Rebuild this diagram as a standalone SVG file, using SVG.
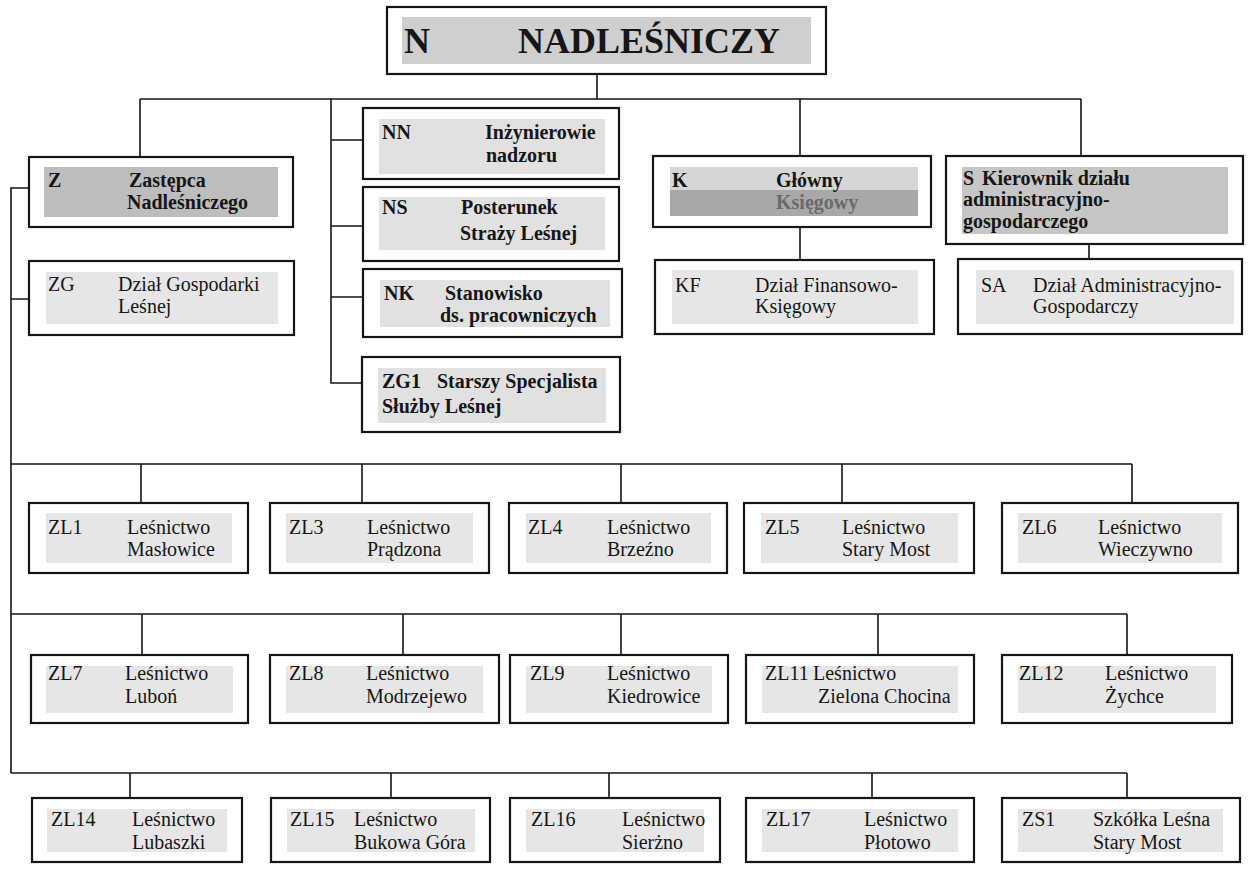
<svg xmlns="http://www.w3.org/2000/svg" width="1252" height="869" viewBox="0 0 1252 869">
<style>
.bg{fill:#ffffff}
.box{fill:#ffffff;stroke:#151515;stroke-width:2.2}
.in{fill:#e6e6e6}
.inS{fill:#e1e1e1}
.t{font-family:"Liberation Serif","Times New Roman",serif;font-size:20px;fill:#161616}
.b{font-weight:bold}
.big{font-size:36px}
.conn{stroke:#151515;stroke-width:1.6;fill:none}
</style>
<rect class="bg" x="0" y="0" width="1252" height="869"/>

<g id="connectors">
<path class="conn" d="M597,74 V99 M140,99 H1081 M140,99 V157 M331,99 V383 H362 M331,140 H363 M331,226 H363 M331,297 H363 M800,99 V156 M1081,99 V156 M800,227 V260 M1089,244 V259"/>
<path class="conn" d="M29,188 H11 V773 M11,299 H29"/>
<path class="conn" d="M11,464 H1132 M141,464 V503 M362,464 V503 M621,464 V503 M842,464 V503 M1132,464 V503"/>
<path class="conn" d="M11,614 H1127 M142,614 V655 M403,614 V655 M621,614 V655 M878,614 V655 M1127,614 V655"/>
<path class="conn" d="M11,773 H1127 M130,773 V798 M391,773 V798 M609,773 V798 M872,773 V798 M1127,773 V798"/>
</g>

<g id="N">
<rect class="box" x="387" y="7" width="439" height="67"/>
<rect x="402" y="17" width="409" height="47" fill="#cfcfcf"/>
<text class="t b big" x="404" y="53">N</text>
<text class="t b big" x="518" y="53">NADLEŚNICZY</text>
</g>

<g id="Z">
<rect class="box" x="29" y="157" width="264" height="70"/>
<rect x="44" y="167" width="234" height="50" fill="#bdbdbd"/>
<text class="t b" x="48" y="187">Z</text>
<text class="t b" x="129" y="187">Zastępca</text>
<text class="t b" x="127" y="209">Nadleśniczego</text>
</g>

<g id="NN">
<rect class="box" x="363" y="108" width="256" height="71"/>
<rect class="inS" x="379" y="119" width="226" height="55"/>
<text class="t b" x="382" y="139">NN</text>
<text class="t b" x="485" y="139">Inżynierowie</text>
<text class="t b" x="486" y="162">nadzoru</text>
</g>

<g id="NS">
<rect class="box" x="363" y="187" width="256" height="74"/>
<rect class="inS" x="379" y="197" width="226" height="53"/>
<text class="t b" x="382" y="214">NS</text>
<text class="t b" x="461" y="214">Posterunek</text>
<text class="t b" x="460" y="240">Straży Leśnej</text>
</g>

<g id="NK">
<rect class="box" x="363" y="269" width="259" height="68"/>
<rect class="inS" x="380" y="280" width="230" height="47"/>
<text class="t b" x="384" y="300">NK</text>
<text class="t b" x="445" y="300">Stanowisko</text>
<text class="t b" x="440" y="322">ds. pracowniczych</text>
</g>

<g id="ZG1">
<rect class="box" x="362" y="357" width="258" height="75"/>
<rect class="inS" x="378" y="368" width="228" height="55"/>
<text class="t b" x="382" y="388">ZG1</text>
<text class="t b" x="437" y="388">Starszy Specjalista</text>
<text class="t b" x="382" y="413">Służby Leśnej</text>
</g>

<g id="K">
<rect class="box" x="653" y="156" width="278" height="71"/>
<rect x="670" y="167" width="248" height="23" fill="#d6d6d6"/>
<rect x="670" y="190" width="248" height="26" fill="#a8a8a8"/>
<text class="t b" x="672" y="187">K</text>
<text class="t b" x="776" y="187">Główny</text>
<text class="t b" x="776" y="209" style="fill:#6a6a6a">Księgowy</text>
</g>

<g id="S">
<rect class="box" x="946" y="156" width="297" height="88"/>
<rect x="962" y="167" width="266" height="67" fill="#c6c6c6"/>
<text class="t b" x="963" y="185">S</text>
<text class="t b" x="982" y="185">Kierownik działu</text>
<text class="t b" x="963" y="206">administracyjno-</text>
<text class="t b" x="963" y="228">gospodarczego</text>
</g>

<g id="ZG">
<rect class="box" x="29" y="261" width="265" height="74"/>
<rect class="in" x="46" y="272" width="232" height="52"/>
<text class="t" x="48" y="291">ZG</text>
<text class="t" x="118" y="291">Dział Gospodarki</text>
<text class="t" x="118" y="313">Leśnej</text>
</g>

<g id="KF">
<rect class="box" x="655" y="260" width="279" height="74"/>
<rect class="in" x="672" y="270" width="246" height="54"/>
<text class="t" x="675" y="292">KF</text>
<text class="t" x="755" y="292">Dział Finansowo-</text>
<text class="t" x="755" y="313">Księgowy</text>
</g>

<g id="SA">
<rect class="box" x="958" y="259" width="284" height="75"/>
<rect class="in" x="976" y="270" width="258" height="54"/>
<text class="t" x="981" y="292">SA</text>
<text class="t" x="1033" y="292">Dział Administracyjno-</text>
<text class="t" x="1033" y="313">Gospodarczy</text>
</g>

<g id="ZL1">
<rect class="box" x="29" y="503" width="219" height="70"/>
<rect class="in" x="46" y="513" width="186" height="50"/>
<text class="t" x="48" y="534">ZL1</text>
<text class="t" x="127" y="534">Leśnictwo</text>
<text class="t" x="127" y="556">Masłowice</text>
</g>
<g id="ZL3">
<rect class="box" x="270" y="503" width="219" height="70"/>
<rect class="in" x="286" y="513" width="187" height="50"/>
<text class="t" x="289" y="534">ZL3</text>
<text class="t" x="367" y="534">Leśnictwo</text>
<text class="t" x="367" y="556">Prądzona</text>
</g>
<g id="ZL4">
<rect class="box" x="509" y="503" width="218" height="70"/>
<rect class="in" x="526" y="513" width="185" height="50"/>
<text class="t" x="528" y="534">ZL4</text>
<text class="t" x="607" y="534">Leśnictwo</text>
<text class="t" x="607" y="556">Brzeźno</text>
</g>
<g id="ZL5">
<rect class="box" x="744" y="503" width="230" height="70"/>
<rect class="in" x="761" y="513" width="197" height="50"/>
<text class="t" x="765" y="534">ZL5</text>
<text class="t" x="842" y="534">Leśnictwo</text>
<text class="t" x="842" y="556">Stary Most</text>
</g>
<g id="ZL6">
<rect class="box" x="1002" y="503" width="236" height="70"/>
<rect class="in" x="1018" y="513" width="204" height="50"/>
<text class="t" x="1022" y="534">ZL6</text>
<text class="t" x="1098" y="534">Leśnictwo</text>
<text class="t" x="1098" y="556">Wieczywno</text>
</g>

<g id="ZL7">
<rect class="box" x="31" y="655" width="217" height="68"/>
<rect class="in" x="46" y="666" width="187" height="47"/>
<text class="t" x="48" y="680">ZL7</text>
<text class="t" x="125" y="680">Leśnictwo</text>
<text class="t" x="125" y="703">Luboń</text>
</g>
<g id="ZL8">
<rect class="box" x="270" y="655" width="229" height="68"/>
<rect class="in" x="286" y="666" width="197" height="47"/>
<text class="t" x="289" y="680">ZL8</text>
<text class="t" x="366" y="680">Leśnictwo</text>
<text class="t" x="366" y="703">Modrzejewo</text>
</g>
<g id="ZL9">
<rect class="box" x="510" y="655" width="218" height="68"/>
<rect class="in" x="526" y="666" width="186" height="47"/>
<text class="t" x="530" y="680">ZL9</text>
<text class="t" x="607" y="680">Leśnictwo</text>
<text class="t" x="607" y="703">Kiedrowice</text>
</g>
<g id="ZL11">
<rect class="box" x="746" y="655" width="228" height="68"/>
<rect class="in" x="762" y="666" width="196" height="47"/>
<text class="t" x="765" y="680">ZL11</text>
<text class="t" x="813" y="680">Leśnictwo</text>
<text class="t" x="818" y="703">Zielona Chocina</text>
</g>
<g id="ZL12">
<rect class="box" x="1002" y="655" width="230" height="68"/>
<rect class="in" x="1018" y="666" width="198" height="47"/>
<text class="t" x="1019" y="680">ZL12</text>
<text class="t" x="1105" y="680">Leśnictwo</text>
<text class="t" x="1105" y="703">Żychce</text>
</g>

<g id="ZL14">
<rect class="box" x="32" y="798" width="210" height="64"/>
<rect class="in" x="47" y="809" width="180" height="43"/>
<text class="t" x="51" y="826">ZL14</text>
<text class="t" x="132" y="826">Leśnictwo</text>
<text class="t" x="132" y="849">Lubaszki</text>
</g>
<g id="ZL15">
<rect class="box" x="271" y="798" width="219" height="64"/>
<rect class="in" x="287" y="809" width="188" height="43"/>
<text class="t" x="290" y="826">ZL15</text>
<text class="t" x="354" y="826">Leśnictwo</text>
<text class="t" x="354" y="849">Bukowa Góra</text>
</g>
<g id="ZL16">
<rect class="box" x="510" y="798" width="210" height="64"/>
<rect class="in" x="526" y="809" width="178" height="43"/>
<text class="t" x="531" y="826">ZL16</text>
<text class="t" x="622" y="826">Leśnictwo</text>
<text class="t" x="622" y="849">Sierżno</text>
</g>
<g id="ZL17">
<rect class="box" x="746" y="798" width="228" height="64"/>
<rect class="in" x="762" y="809" width="196" height="43"/>
<text class="t" x="766" y="826">ZL17</text>
<text class="t" x="864" y="826">Leśnictwo</text>
<text class="t" x="864" y="849">Płotowo</text>
</g>
<g id="ZS1">
<rect class="box" x="1002" y="798" width="238" height="64"/>
<rect class="in" x="1018" y="809" width="205" height="43"/>
<text class="t" x="1022" y="826">ZS1</text>
<text class="t" x="1093" y="826">Szkółka Leśna</text>
<text class="t" x="1093" y="849">Stary Most</text>
</g>
</svg>
